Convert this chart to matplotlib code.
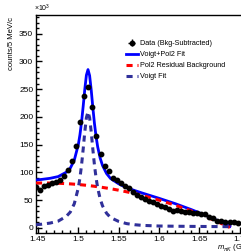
import numpy as np
import matplotlib
matplotlib.use("Agg")
import matplotlib.pyplot as plt
from matplotlib.ticker import MultipleLocator
from matplotlib import font_manager

plt.rcParams['font.family'] = ['Liberation Sans', 'DejaVu Sans']
plt.rcParams['mathtext.fontset'] = 'custom'
plt.rcParams['mathtext.rm'] = 'Liberation Sans'
plt.rcParams['mathtext.it'] = 'Liberation Sans:italic'

names = {f.name for f in font_manager.fontManager.ttflist}
narrow = 'Liberation Sans Narrow' if 'Liberation Sans Narrow' in names else 'Liberation Sans'
leg_size = 6 if narrow == 'Liberation Sans Narrow' else 5.2

##########################################
# data (counts in units of 10^3 per 5 MeV bin)
mass = 1.4475 + 0.005 * np.arange(51)
counts = [73, 68, 75, 78, 80, 83, 86, 93, 105, 121,
          147, 190, 238, 253, 218, 165, 133, 111, 102, 90,
          86, 80, 75, 72, 65, 60, 55, 52, 49, 46,
          43, 40, 37, 33, 31, 32, 30, 29, 28, 27,
          26, 25, 24, 20, 17, 13, 12, 11, 11, 10, 9]
count_err = 3.0

# fit curves
m_fit = [1.4475, 1.455, 1.465, 1.475, 1.485, 1.49, 1.495, 1.5, 1.502, 1.504,
         1.506, 1.508, 1.51, 1.512, 1.514, 1.516, 1.518, 1.52, 1.522, 1.524,
         1.527, 1.53, 1.535, 1.54, 1.55, 1.56, 1.57, 1.58, 1.6, 1.62,
         1.64, 1.66, 1.67, 1.68, 1.688]
total_fit = [86.1, 87.3, 89.2, 92.3, 100.1, 107.4, 122.0, 150.0, 167.7, 190.7,
             218.8, 249.4, 275.1, 285.2, 274.4, 248.1, 216.8, 188.0, 164.4, 146.0,
             126.0, 112.4, 97.8, 88.8, 79.3, 72.3, 67.1, 62.3, 53.2, 43.6,
             32.9, 21.1, 14.7, 8.1, 2.5]
bkg_fit = [80.6, 80.75, 80.67, 80.28, 79.6, 79.14, 78.6, 78.0, 77.74, 77.46,
           77.17, 76.87, 76.56, 76.23, 75.9, 75.55, 75.19, 74.82, 74.43, 74.04,
           73.42, 72.77, 71.64, 70.43, 67.78, 64.83, 61.58, 58.04, 50.0, 40.82,
           30.4, 18.78, 12.48, 6.0, 0.48]
voigt_fit = [5.5, 6.5, 8.5, 12.0, 20.5, 28.3, 43.4, 72.0, 90.0, 113.2,
             141.6, 172.5, 198.5, 209.0, 198.5, 172.5, 141.6, 113.2, 90.0, 72.0,
             52.6, 39.6, 26.2, 18.4, 11.5, 7.5, 5.5, 4.3, 3.2, 2.8,
             2.5, 2.3, 2.2, 2.1, 2.0]

W, H = 241, 252
fig = plt.figure(figsize=(W / 100, H / 100), dpi=100)
ax = fig.add_axes([36 / W, 1 - 233 / H, 206 / W, 218 / H])

ax.plot(m_fit, total_fit, color='#0000ff', lw=2.0, label='Voigt+Pol2 Fit', zorder=3)
ax.plot(m_fit, bkg_fit, color='#ff0000', lw=2.2, dashes=(2, 1.6),
        label='Pol2 Residual Background', zorder=4)
ax.plot(m_fit, voigt_fit, color='#30309a', lw=2.2, dashes=(2, 1.6),
        label='Voigt Fit', zorder=4)
ax.errorbar(mass, counts, xerr=0.0025, yerr=count_err, fmt='o', color='k',
            ms=3.2, elinewidth=1.0, capsize=0, label='Data (Bkg-Subtracted)', zorder=5)

ax.set_xlim(1.4475, 1.703)
ax.set_ylim(-9.4, 383.6)
ax.xaxis.set_minor_locator(MultipleLocator(0.01))
ax.yaxis.set_major_locator(MultipleLocator(50))
ax.yaxis.set_minor_locator(MultipleLocator(10))
ax.set_xticks([1.45, 1.5, 1.55, 1.6, 1.65, 1.7])
ax.set_xticklabels(['1.45', '1.5', '1.55', '1.6', '1.65', '1.7'])
ax.tick_params(which='both', direction='in', labelsize=6, width=1.0, pad=2)
ax.tick_params(which='major', length=4)
ax.tick_params(which='minor', length=2.2)
ax.spines['right'].set_visible(False)
for s in ['left', 'top', 'bottom']:
    ax.spines[s].set_linewidth(1.0)

handles, labels = ax.get_legend_handles_labels()
order = [3, 0, 1, 2]
leg = ax.legend([handles[i] for i in order], [labels[i] for i in order],
                loc='upper left', bbox_to_anchor=(121 / W, 1 - 35 / H),
                bbox_transform=fig.transFigure, frameon=False,
                prop={'family': [narrow, 'DejaVu Sans'], 'size': leg_size},
                handlelength=1.6, handletextpad=0.4, labelspacing=0.55,
                borderpad=0.2)

fig.text(12 / W, 1 - 17 / H, 'counts/5 MeV/c', rotation=90, ha='center',
         va='top', fontsize=5.5)
fig.text(34 / W, 1 - 14 / H, r'$\times 10^3$', ha='left', va='bottom', fontsize=5)
fig.text(217 / W, 1 - 248 / H, r'$m_{\pi K}$ (GeV/c$^2$)', ha='left',
         va='center', fontsize=5.5)

fig.savefig('out.png', dpi=100)
